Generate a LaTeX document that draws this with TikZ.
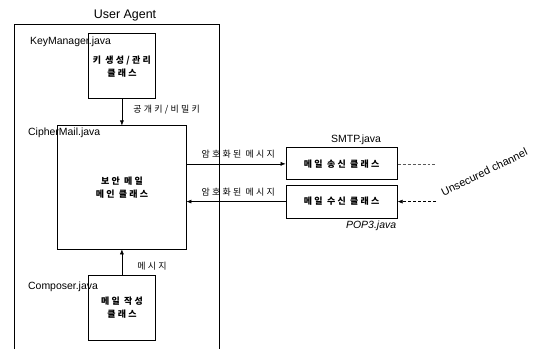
\documentclass[tikz,border=0pt]{standalone}
\usepackage{fontspec}
\setmainfont{Liberation Sans}
\newfontfamily\krfont[LetterSpace=25]{Noto Sans CJK KR}
\usetikzlibrary{arrows.meta, positioning, calc}

\begin{document}
\begin{tikzpicture}[cls/.style={rectangle, draw=black, line width=0.8pt, align=center, font=\krfont\fontsize{9}{13}\selectfont\bfseries, inner sep=2pt},
  lbl/.style={font=\fontsize{10.5}{12}\selectfont, inner sep=1pt},
  krlbl/.style={font=\krfont\fontsize{9}{11}\selectfont, inner sep=1pt},
  flow/.style={-{Latex[length=5pt, width=4pt]}, line width=0.6pt},
  wire/.style={densely dashed, line width=0.5pt, gray!70!black}]
  \useasboundingbox (0,0) rectangle (18.87,12.31);
  % user agent frame
  \draw[line width=0.6pt] (0.49,0) -- (0.49,11.47) -- (7.73,11.47) -- (7.73,0);
  \node[font=\fontsize{12.5}{14}\selectfont] (ua) at (4.41,11.78) {User Agent};

  \node[cls, minimum width=2.33cm, minimum height=2.29cm] (km) at (4.30,9.97) {키 생성/관리\\클래스};
  \node[cls, minimum width=4.52cm, minimum height=4.34cm] (cm) at (4.30,5.70) {보안 메일\\메인 클래스};
  \node[cls, minimum width=2.36cm, minimum height=2.26cm] (cp) at (4.30,1.45) {메일 작성\\클래스};
  \node[cls, minimum width=3.92cm, minimum height=1.13cm] (smtp) at (12.05,6.53) {메일 송신 클래스};
  \node[cls, minimum width=3.92cm, minimum height=1.16cm] (pop) at (12.05,5.20) {메일 수신 클래스};

  \node[lbl, anchor=west] (kmname) at (1.02,10.83) {KeyManager.java};
  \node[lbl, anchor=west] (cmname) at (0.95,7.62) {CipherMail.java};
  \node[lbl, anchor=west] (cpname) at (0.95,2.19) {Composer.java};
  \node[lbl] (smtpname) at (12.56,7.37) {SMTP.java};
  \node[lbl, font=\fontsize{10.5}{12}\selectfont\itshape] (popname) at (13.09,4.34) {POP3.java};

  % messages between classes
  \draw[flow] (km.south) -- (cm.north);
  \draw[flow] (cp.north) -- (cm.south);
  \draw[flow] (smtp.west -| cm.east) -- (smtp.west);
  \draw[flow] (pop.west) -- (pop.west -| cm.east);
  \node[krlbl, anchor=west] (keys) at (4.66,8.43) {공개키/비밀키};
  \node[krlbl, anchor=west] (msg) at (4.80,2.93) {메시지};
  \node[krlbl] (enc1) at (8.40,6.88) {암호화된 메시지};
  \node[krlbl] (enc2) at (8.40,5.54) {암호화된 메시지};

  % outside world
  \coordinate (net1) at (15.38,6.53);
  \coordinate (net2) at (15.38,5.20);
  \draw[wire] (smtp.east) -- (net1);
  \draw[wire, -{Latex[length=5pt, width=4pt]}, black] (net2) -- (pop.east);
  \node[lbl, font=\fontsize{11}{12}\selectfont, rotate=26] (chan) at (17.08,6.24) {Unsecured channel};
\end{tikzpicture}
\end{document}
